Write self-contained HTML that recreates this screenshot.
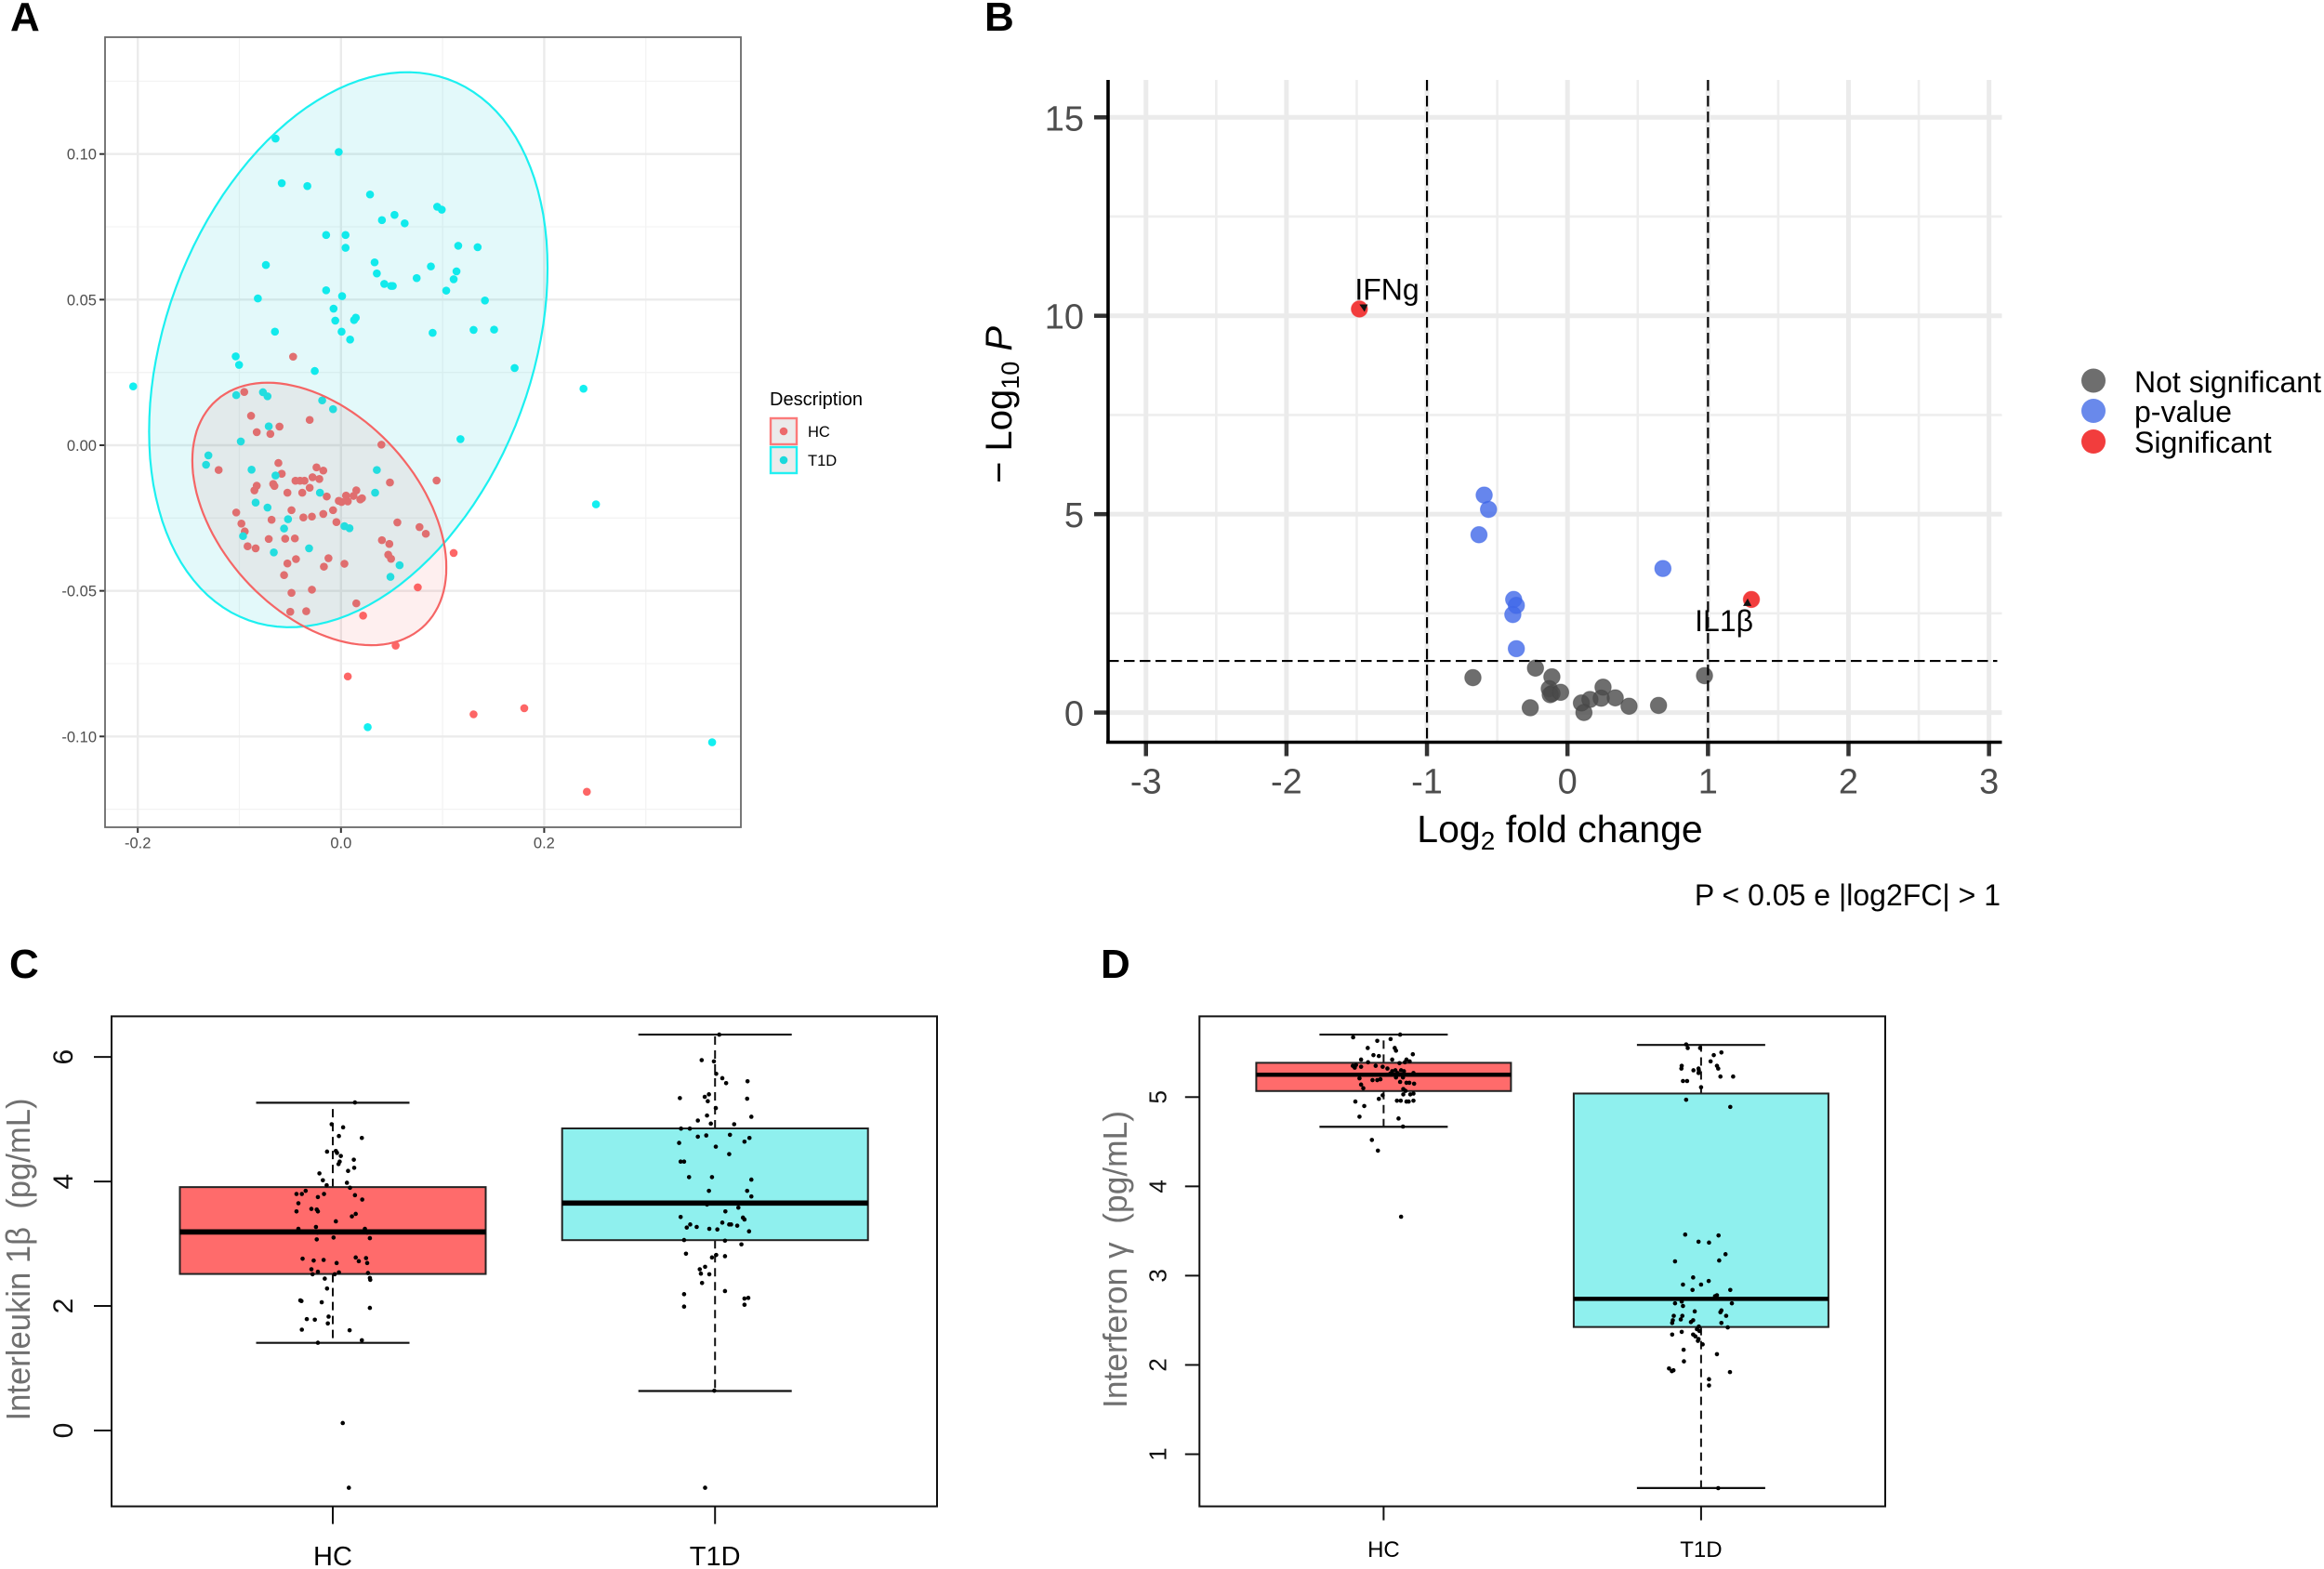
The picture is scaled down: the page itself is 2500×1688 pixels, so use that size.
<!DOCTYPE html>
<html lang="en">
<head>
<meta charset="utf-8">
<title>Figure panels A-D</title>
<style>
html,body{margin:0;padding:0;background:#fff;}
svg{display:block;}
text{font-family:"Liberation Sans",sans-serif;}
</style>
</head>
<body>
<svg id="fig" xmlns="http://www.w3.org/2000/svg" width="2500" height="1688" viewBox="0 0 2500 1688">
<rect x="0" y="0" width="2500" height="1688" fill="#fff"/>
<text x="11" y="33" font-size="44" font-weight="bold">A</text>
<text x="1059" y="33" font-size="44" font-weight="bold">B</text>
<text x="10" y="1052" font-size="44" font-weight="bold">C</text>
<text x="1184" y="1052" font-size="44" font-weight="bold">D</text>

<g id="panelA"></g>
<g id="panelB"></g>
<g id="panelC"></g>
<g id="panelD"></g>

<g>
<text x="828" y="436" font-size="20" fill="#000">Description</text>
<rect x="829" y="450" width="28" height="28" fill="#ebebeb" stroke="#fb7a7a" stroke-width="2.4"/>
<circle cx="843" cy="464" r="4.3" fill="#ec6a6c"/>
<text x="869" y="470" font-size="16.5">HC</text>
<rect x="829" y="481" width="28" height="28" fill="#ebebeb" stroke="#22f0f2" stroke-width="2.4"/>
<circle cx="843" cy="495" r="4.3" fill="#1ad9dc"/>
<text x="869" y="501" font-size="16.5">T1D</text>
</g>

<g>
<circle cx="2252" cy="409.5" r="13" fill="#4a4a4a" fill-opacity="0.8"/>
<text x="2296" y="422" font-size="32">Not significant</text>
<circle cx="2252" cy="442" r="13" fill="#4f74e8" fill-opacity="0.85"/>
<text x="2296" y="454" font-size="32">p-value</text>
<circle cx="2252" cy="475" r="13" fill="#f12c2c" fill-opacity="0.92"/>
<text x="2296" y="487" font-size="32">Significant</text>
</g>

<text x="1678" y="906" font-size="41" text-anchor="middle" fill="#000">Log<tspan font-size="28" dy="8">2</tspan><tspan dy="-8"> fold change</tspan></text>
<text transform="translate(1088 520) rotate(-90)" font-size="40" fill="#000">− Log<tspan font-size="27" dy="8">10</tspan><tspan dy="-8"> </tspan><tspan font-style="italic">P</tspan></text>
<text x="2152" y="974" font-size="32" text-anchor="end" fill="#000">P &lt; 0.05 e |log2FC| &gt; 1</text>

<text transform="translate(32 1355) rotate(-90)" font-size="36" text-anchor="middle" fill="#707070" textLength="347" lengthAdjust="spacingAndGlyphs" xml:space="preserve">Interleukin 1β  (pg/mL)</text>
<text transform="translate(1212 1355) rotate(-90)" font-size="36" text-anchor="middle" fill="#707070" textLength="320" lengthAdjust="spacingAndGlyphs" xml:space="preserve">Interferon γ  (pg/mL)</text>
</svg>

<script>
/* ---------- Panel A data ---------- */
const pcaXTicks = [-0.2, 0.0, 0.2];
const pcaXTickLabels = ['-0.2', '0.0', '0.2'];
const pcaXMinor = [-0.1, 0.1, 0.3];
const pcaYTicks = [0.10, 0.05, 0.00, -0.05, -0.10];
const pcaYTickLabels = ['0.10', '0.05', '0.00', '-0.05', '-0.10'];
const pcaYMinor = [0.125, 0.075, 0.025, -0.025, -0.075, -0.125];
const pcaHcPoints = [
[-0.0471,0.0304],[-0.0952,0.0183],[-0.0885,0.0101],[-0.0308,0.0087],[-0.0605,0.0064],[-0.0829,0.0045],[-0.0695,0.0039],[0.0398,0.0002],
[-0.0616,-0.0061],[-0.0241,-0.0076],[-0.0174,-0.0087],[-0.1204,-0.0085],[-0.0583,-0.0098],[-0.0448,-0.0122],[-0.0403,-0.0122],[-0.0359,-0.0122],
[-0.0280,-0.0110],[-0.0213,-0.0116],[0.0482,-0.0128],[0.0941,-0.0121],[-0.0829,-0.0139],[-0.0852,-0.0155],[-0.0667,-0.0133],[-0.0655,-0.0140],
[-0.0527,-0.0163],[-0.0381,-0.0163],[-0.0308,-0.0146],[-0.0140,-0.0176],[0.0151,-0.0155],[0.0123,-0.0174],[0.0050,-0.0173],[-0.0022,-0.0191],
[0.0006,-0.0195],[0.0067,-0.0193],[0.0190,-0.0186],[0.0207,-0.0182],[-0.1031,-0.0231],[-0.0487,-0.0223],[-0.0078,-0.0223],[-0.0174,-0.0236],
[-0.0286,-0.0245],[-0.0370,-0.0248],[-0.0683,-0.0256],[-0.0980,-0.0269],[-0.0045,-0.0264],[0.0555,-0.0265],[0.0773,-0.0281],[-0.0947,-0.0296],
[0.0835,-0.0304],[-0.0711,-0.0322],[-0.0549,-0.0321],[-0.0454,-0.0320],[0.0403,-0.0326],[0.0476,-0.0339],[-0.0919,-0.0347],[-0.0840,-0.0354],
[0.0465,-0.0376],[0.0493,-0.0390],[0.1109,-0.0370],[-0.0443,-0.0391],[-0.0123,-0.0388],[-0.0527,-0.0406],[0.0034,-0.0407],[-0.0168,-0.0417],
[-0.0560,-0.0446],[0.0756,-0.0488],[-0.0286,-0.0496],[-0.0487,-0.0507],[0.0151,-0.0543],[-0.0499,-0.0572],[-0.0342,-0.0570],[0.0218,-0.0585],
[0.0538,-0.0688],[0.0067,-0.0794],[0.1305,-0.0924],[0.1804,-0.0903],[0.2420,-0.1190]];
const pcaT1dPoints = [
[-0.0644,0.1053],[-0.0022,0.1007],[-0.0583,0.0900],[-0.0331,0.0890],[0.0286,0.0861],[0.0947,0.0819],[0.0992,0.0809],[0.0527,0.0791],
[0.0403,0.0773],[0.0627,0.0762],[-0.0146,0.0722],[0.0045,0.0722],[0.0045,0.0678],[0.1154,0.0685],[0.1345,0.0680],[-0.0739,0.0619],
[0.0331,0.0628],[0.0353,0.0590],[0.0885,0.0614],[0.1137,0.0597],[0.1109,0.0570],[0.0745,0.0574],[0.0426,0.0554],[0.0493,0.0547],
[0.0510,0.0547],[-0.0146,0.0532],[0.0011,0.0512],[0.1036,0.0531],[-0.0818,0.0504],[0.1417,0.0497],[-0.0073,0.0469],[-0.0056,0.0428],
[0.0129,0.0430],[0.0146,0.0438],[-0.0650,0.0390],[0.0006,0.0390],[0.0090,0.0363],[0.0902,0.0386],[0.1305,0.0396],[0.1507,0.0397],
[-0.1036,0.0305],[-0.1003,0.0276],[-0.0258,0.0255],[0.1709,0.0265],[-0.2045,0.0202],[0.2387,0.0194],[-0.1031,0.0172],[-0.0768,0.0182],
[-0.0723,0.0168],[-0.0185,0.0154],[-0.0078,0.0124],[-0.0711,0.0065],[-0.0986,0.0013],[0.1176,0.0021],[-0.1305,-0.0035],[-0.1328,-0.0067],
[-0.0880,-0.0084],[-0.0644,-0.0104],[0.0353,-0.0085],[-0.0207,-0.0163],[0.0336,-0.0163],[-0.0840,-0.0197],[-0.0723,-0.0214],[-0.0521,-0.0254],
[-0.0560,-0.0286],[0.0034,-0.0278],[0.0084,-0.0285],[-0.0964,-0.0312],[-0.0314,-0.0354],[-0.0661,-0.0368],[0.0577,-0.0412],[0.0487,-0.0452],
[0.2510,-0.0203],[0.0263,-0.0968],[0.3653,-0.1020]];
/* ellipse: centre, half-extent on each axis, axis correlation */
const pcaHcEllipse = [-0.0213, -0.0236, 0.125, 0.04507, -0.408];
const pcaT1dEllipse = [0.00723, 0.0328, 0.1961, 0.0953, 0.2945];

/* ---------- Panel B data ---------- */
const volcanoXTicks = [-3, -2, -1, 0, 1, 2, 3];
const volcanoXMinor = [-2.5, -1.5, -0.5, 0.5, 1.5, 2.5];
const volcanoYTicks = [0, 5, 10, 15];
const volcanoYMinor = [2.5, 7.5, 12.5];
const volcanoFcCutoffs = [-1, 1];
const volcanoPCutoff = [1.3];
const volcanoNotSig = [[-0.673,0.88],[-0.228,1.12],[-0.111,0.90],[-0.13,0.60],[-0.11,0.48],[-0.123,0.45],[-0.049,0.51],[-0.265,0.12],[0.099,0.24],[0.16,0.33],[0.117,0],[0.253,0.64],[0.24,0.36],[0.34,0.37],[0.438,0.16],[0.648,0.18],[0.975,0.93]];
const volcanoPValue = [[-0.593,5.48],[-0.562,5.12],[-0.63,4.48],[0.679,3.63],[-0.383,2.85],[-0.364,2.70],[-0.389,2.47],[-0.364,1.61]];
const volcanoSignificant = [[-1.481,10.17],[1.309,2.85]];

/* ---------- Panel C data ---------- */
const il1bTicks = [0, 2, 4, 6];
const il1bGroups = ['HC', 'T1D'];
const il1bQ1 = [2.515, 3.058];
const il1bMedian = [3.19, 3.654];
const il1bQ3 = [3.91, 4.853];
const il1bWhiskerLow = [1.408, 0.635];
const il1bWhiskerHigh = [5.265, 6.36];
const il1bHc = [[.058,5.27],[-.003,4.92],[.027,4.87],[.016,4.73],[.076,4.70],[-.015,4.48],[.008,4.49],[.011,4.46],[.021,4.41],[.055,4.35],[.018,4.32],[.015,4.28],[.056,4.22],[.040,4.17],[-.035,4.13],[-.026,4.02],[.037,3.98],[-.016,3.94],[.045,3.90],[-.071,3.85],[-.095,3.80],[-.081,3.80],[-.023,3.80],[-.039,3.75],[.058,3.78],[.077,3.71],[-.090,3.65],[-.056,3.56],[-.042,3.55],[-.039,3.52],[-.095,3.52],[.060,3.48],[.050,3.44],[.008,3.36],[-.090,3.24],[-.044,3.27],[.084,3.24],[-.040,3.18],[.090,3.18],[.002,3.10],[-.042,3.07],[.097,3.09],[-.079,2.76],[-.050,2.73],[-.024,2.74],[.060,2.78],[.068,2.72],[.087,2.77],[.090,2.69],[.010,2.69],[-.056,2.59],[-.039,2.55],[-.053,2.51],[.005,2.51],[.016,2.54],[.092,2.53],[.097,2.45],[.098,2.42],[-.021,2.44],[-.015,2.28],[-.085,2.09],[-.082,2.08],[-.029,2.06],[.097,1.97],[-.068,1.79],[-.047,1.78],[-.011,1.83],[-.013,1.72],[-.081,1.62],[.044,1.61],[.076,1.45],[-.039,1.41],[.026,0.12],[.042,-0.92]];
const il1bT1d = [[.011,6.36],[-.035,5.95],[-.003,5.93],[.003,5.73],[.019,5.66],[.029,5.58],[.085,5.61],[-.092,5.34],[-.027,5.36],[-.019,5.29],[-.016,5.40],[.084,5.33],[.002,5.18],[-.021,5.06],[-.045,4.98],[-.011,4.93],[.050,4.92],[.095,5.04],[-.089,4.85],[-.066,4.85],[-.045,4.72],[-.023,4.74],[.039,4.75],[.090,4.70],[.077,4.64],[-.094,4.62],[.002,4.56],[.037,4.44],[-.090,4.32],[-.081,4.32],[-.068,4.07],[-.008,4.07],[.095,4.03],[-.016,3.85],[.084,3.85],[.095,3.76],[-.021,3.63],[.061,3.58],[.027,3.52],[-.090,3.43],[.073,3.42],[.077,3.39],[-.065,3.31],[-.074,3.26],[-.048,3.27],[.019,3.34],[.037,3.31],[.042,3.31],[.058,3.29],[-.015,3.24],[.006,3.23],[.089,3.20],[-.081,3.06],[.026,3.05],[.069,2.99],[-.076,2.84],[.003,2.82],[.026,2.80],[-.008,2.78],[-.026,2.63],[-.040,2.59],[-.037,2.52],[-.015,2.51],[-.034,2.37],[.026,2.24],[-.081,2.19],[.077,2.12],[.087,2.13],[.077,2.02],[-.081,1.99],[-.002,0.64],[-.026,-0.92]];

/* ---------- Panel D data ---------- */
const ifngTicks = [1, 2, 3, 4, 5];
const ifngGroups = ['HC', 'T1D'];
const ifngQ1 = [5.068, 2.425];
const ifngMedian = [5.251, 2.74];
const ifngQ3 = [5.384, 5.04];
const ifngWhiskerLow = [4.667, 0.621];
const ifngWhiskerHigh = [5.70, 5.584];
const ifngHc = [[.052,5.70],[-.096,5.67],[.022,5.65],[-.020,5.63],[-.050,5.55],[.035,5.55],[.039,5.52],[.092,5.48],[-.032,5.47],[-.015,5.46],[-.071,5.42],[.072,5.42],[.027,5.42],[.082,5.40],[.067,5.39],[.050,5.38],[-.049,5.39],[-.087,5.36],[-.097,5.35],[-.091,5.33],[-.071,5.34],[-.025,5.35],[-.003,5.34],[.012,5.32],[.037,5.30],[.055,5.30],[.027,5.29],[.064,5.29],[.094,5.27],[.044,5.27],[.020,5.26],[.039,5.22],[.061,5.22],[-.076,5.21],[-.035,5.19],[-.020,5.19],[-.010,5.20],[.052,5.17],[.072,5.16],[.081,5.16],[.096,5.15],[-.071,5.14],[-.064,5.10],[.062,5.09],[.069,5.07],[.094,5.04],[.084,5.03],[.062,5.03],[-.003,5.02],[-.015,4.98],[.042,4.96],[.054,4.96],[.072,4.95],[.079,4.95],[.094,4.96],[-.089,4.95],[-.061,4.90],[-.076,4.78],[.047,4.76],[.061,4.67],[-.037,4.52],[-.018,4.40],[.055,3.66]];
const ifngT1d = [[-.047,5.59],[-.003,5.55],[-.042,5.55],[.064,5.50],[.040,5.47],[.030,5.40],[-.061,5.35],[.050,5.35],[.054,5.32],[-.062,5.32],[-.008,5.32],[-.024,5.30],[-.007,5.30],[-.008,5.27],[.061,5.23],[.101,5.23],[-.057,5.18],[-.044,5.18],[0,5.11],[-.047,4.97],[.092,4.89],[-.050,3.46],[.055,3.45],[-.008,3.38],[.025,3.37],[.077,3.24],[.057,3.17],[-.082,3.16],[-.025,2.98],[.024,2.94],[0,2.90],[-.057,2.90],[-.027,2.84],[.092,2.84],[.050,2.78],[.044,2.77],[-.061,2.71],[-.082,2.69],[.097,2.69],[-.057,2.66],[-.020,2.60],[.064,2.61],[.061,2.59],[-.086,2.55],[-.059,2.55],[.079,2.55],[-.064,2.51],[-.089,2.50],[-.091,2.47],[-.025,2.50],[-.032,2.48],[.064,2.47],[-.007,2.43],[-.013,2.40],[.084,2.42],[-.061,2.37],[-.005,2.38],[-.091,2.34],[-.025,2.34],[-.018,2.32],[-.008,2.29],[-.010,2.27],[.005,2.23],[-.055,2.17],[.050,2.12],[-.054,2.04],[-.101,1.96],[-.092,1.93],[-.087,1.94],[.091,1.92],[.025,1.84],[.025,1.77],[.054,0.62]];

const NS = 'http://www.w3.org/2000/svg';
function make(parent, tag, props) {
  const el = document.createElementNS(NS, tag);
  Object.keys(props).forEach(function (k) { el.setAttribute(k, props[k]); });
  parent.appendChild(el);
  return el;
}

/* ---------- Panel A ---------- */
(function () {
  const g = document.getElementById('panelA');
  const L = 113, R = 797, T = 40, B = 890;
  const x = function (v) { return 366.8 + 1093 * v; };
  const y = function (v) { return 479 - 3133 * v; };
  pcaXMinor.forEach(function (v) {
    const el = make(g, 'line', {x1: x(v), x2: x(v), y1: T, y2: B, stroke: '#f3f3f3', 'stroke-width': 1.3});
    
    
  });
  pcaYMinor.forEach(function (v) {
    const el = make(g, 'line', {x1: L, x2: R, y1: y(v), y2: y(v), stroke: '#f3f3f3', 'stroke-width': 1.3});
    
    
  });
  pcaXTicks.forEach(function (v, i) {
    const gl = make(g, 'line', {x1: x(v), x2: x(v), y1: T, y2: B, stroke: '#ebebeb', 'stroke-width': 2.4});
    
    
    const tk = make(g, 'line', {x1: x(v), x2: x(v), y1: B, y2: B + 6, stroke: '#333', 'stroke-width': 2});
    
    
    const tx = make(g, 'text', {x: x(v), y: B + 22.5, 'font-size': 16.5, fill: '#4d4d4d', 'text-anchor': 'middle'});
    tx.textContent = pcaXTickLabels[i];
    
    
  });
  pcaYTicks.forEach(function (v, i) {
    const gl = make(g, 'line', {x1: L, x2: R, y1: y(v), y2: y(v), stroke: '#ebebeb', 'stroke-width': 2.4});
    
    
    const tk = make(g, 'line', {x1: L - 6, x2: L, y1: y(v), y2: y(v), stroke: '#333', 'stroke-width': 2});
    
    
    const tx = make(g, 'text', {x: L - 9, y: y(v) + 6, 'font-size': 16.5, fill: '#4d4d4d', 'text-anchor': 'end'});
    tx.textContent = pcaYTickLabels[i];
    
    
  });
  pcaHcPoints.forEach(function (p) {
    const el = make(g, 'circle', {cx: x(p[0]), cy: y(p[1]), r: 4.3, fill: '#fd6666'});
    
    
  });
  pcaT1dPoints.forEach(function (p) {
    const el = make(g, 'circle', {cx: x(p[0]), cy: y(p[1]), r: 4.3, fill: '#14eff0'});
    
    
  });
  function ellipsePath(e) {
    const theta = Math.acos(e[4]);
    let d = '';
    for (let a = 0; a < 360; a += 3) {
      const t = a * Math.PI / 180;
      const px = x(e[0] + e[2] * Math.cos(t));
      const py = y(e[1] + e[3] * Math.cos(t - theta));
      d += (a === 0 ? 'M' : 'L') + px.toFixed(1) + ' ' + py.toFixed(1);
    }
    return d + 'Z';
  }
  const hcEl = make(g, 'path', {d: ellipsePath(pcaHcEllipse), fill: '#f85050', 'fill-opacity': 0.09, stroke: 'none'});
  
  
  const t1dEl = make(g, 'path', {d: ellipsePath(pcaT1dEllipse), fill: '#00c8d2', 'fill-opacity': 0.11, stroke: '#1cf0f0', 'stroke-width': 2.2});
  
  
  const hcLine = make(g, 'path', {d: ellipsePath(pcaHcEllipse), fill: 'none', stroke: '#f56565', 'stroke-width': 2.2});
  
  
  const frame = make(g, 'rect', {x: L, y: T, width: R - L, height: B - T, fill: 'none', stroke: '#6a6a6a', 'stroke-width': 1.8});
  
  
})();

/* ---------- Panel B ---------- */
(function () {
  const g = document.getElementById('panelB');
  const L = 1192, R = 2153.5, T = 86, B = 798.5;
  const x = function (v) { return 1686.2 + 151.15 * v; };
  const y = function (v) { return 766.6 - 42.69 * v; };
  volcanoXMinor.forEach(function (v) {
    const el = make(g, 'line', {x1: x(v), x2: x(v), y1: T, y2: B, stroke: '#eeeeee', 'stroke-width': 2.6});
    
    
  });
  volcanoYMinor.forEach(function (v) {
    const el = make(g, 'line', {x1: L, x2: R, y1: y(v), y2: y(v), stroke: '#eeeeee', 'stroke-width': 2.6});
    
    
  });
  volcanoXTicks.forEach(function (v) {
    const gl = make(g, 'line', {x1: x(v), x2: x(v), y1: T, y2: B, stroke: '#ebebeb', 'stroke-width': 5});
    
    
    const tk = make(g, 'line', {x1: x(v), x2: x(v), y1: B, y2: B + 15, stroke: '#333', 'stroke-width': 4.5});
    
    
    const tx = make(g, 'text', {x: x(v), y: B + 55, 'font-size': 38, fill: '#4d4d4d', 'text-anchor': 'middle'});
    tx.textContent = String(v);
    
    
  });
  volcanoYTicks.forEach(function (v) {
    const gl = make(g, 'line', {x1: L, x2: R, y1: y(v), y2: y(v), stroke: '#ebebeb', 'stroke-width': 5});
    
    
    const tk = make(g, 'line', {x1: L - 15, x2: L, y1: y(v), y2: y(v), stroke: '#333', 'stroke-width': 4.5});
    
    
    const tx = make(g, 'text', {x: L - 26, y: y(v) + 14, 'font-size': 38, fill: '#4d4d4d', 'text-anchor': 'end'});
    tx.textContent = String(v);
    
    
  });
  volcanoNotSig.forEach(function (p) {
    const el = make(g, 'circle', {cx: x(p[0]), cy: y(p[1]), r: 8.8, fill: '#4a4a4a', 'fill-opacity': 0.8, stroke: '#444', 'stroke-opacity': 0.5, 'stroke-width': 1});
    
    
  });
  volcanoPValue.forEach(function (p) {
    const el = make(g, 'circle', {cx: x(p[0]), cy: y(p[1]), r: 8.8, fill: '#4068e8', 'fill-opacity': 0.8, stroke: '#4068e8', 'stroke-opacity': 0.5, 'stroke-width': 1});
    
    
  });
  volcanoSignificant.forEach(function (p) {
    const el = make(g, 'circle', {cx: x(p[0]), cy: y(p[1]), r: 8.8, fill: '#f12c2c', 'fill-opacity': 0.92, stroke: '#f12c2c', 'stroke-opacity': 0.5, 'stroke-width': 1});
    
    
  });
  volcanoFcCutoffs.forEach(function (v) {
    const el = make(g, 'line', {x1: x(v), x2: x(v), y1: T, y2: B, stroke: '#000', 'stroke-width': 2.1, 'stroke-dasharray': '11.5 5.5'});
    
    
  });
  volcanoPCutoff.forEach(function (v) {
    const el = make(g, 'line', {x1: L, x2: R - 5, y1: y(v), y2: y(v), stroke: '#000', 'stroke-width': 2.1, 'stroke-dasharray': '11.5 5.5'});
    
    
  });
  const axX = make(g, 'line', {x1: L - 2, x2: R, y1: B, y2: B, stroke: '#000', 'stroke-width': 3.6});
  
  
  const axY = make(g, 'line', {x1: L, x2: L, y1: T, y2: B, stroke: '#000', 'stroke-width': 3.6});
  
  

  const ifngPx = x(volcanoSignificant[0][0]), ifngPy = y(volcanoSignificant[0][1]);
  const il1bPx = x(volcanoSignificant[1][0]), il1bPy = y(volcanoSignificant[1][1]);
  const l1 = make(g, 'text', {x: ifngPx - 5, y: ifngPy - 10, 'font-size': 32, fill: '#000'});
  l1.textContent = 'IFNg';
  
  
  const a1 = make(g, 'path', {d: 'M' + (ifngPx) + ' ' + (ifngPy - 5) + 'h9l-3.5 8z', fill: '#111'});
  
  
  const l2 = make(g, 'text', {x: il1bPx + 2, y: il1bPy + 34, 'font-size': 32, fill: '#000', 'text-anchor': 'end'});
  l2.textContent = 'IL1β';
  
  
  const a2 = make(g, 'path', {d: 'M' + (il1bPx - 9) + ' ' + (il1bPy + 7) + 'h9l-4 -8z', fill: '#111'});
  
  
})();

/* ---------- Boxplots ---------- */
function boxplot(g, prefix, cfg) {
  const y = cfg.y, x = cfg.x;
  const colors = ['#ff6b6b', '#8ff0ee'];
  cfg.groups.forEach(function (name, i) {
    const c = x(i + 1);
    const w1 = make(g, 'line', {x1: c, x2: c, y1: y(cfg.q3[i]), y2: y(cfg.high[i]), stroke: '#111', 'stroke-width': 2, 'stroke-dasharray': '9 6'});
    
    
    const w2 = make(g, 'line', {x1: c, x2: c, y1: y(cfg.q1[i]), y2: y(cfg.low[i]), stroke: '#111', 'stroke-width': 2, 'stroke-dasharray': '9 6'});
    
    
    const c1 = make(g, 'line', {x1: c - cfg.capW, x2: c + cfg.capW, y1: y(cfg.high[i]), y2: y(cfg.high[i]), stroke: '#111', 'stroke-width': 2.2});
    
    
    const c2 = make(g, 'line', {x1: c - cfg.capW, x2: c + cfg.capW, y1: y(cfg.low[i]), y2: y(cfg.low[i]), stroke: '#111', 'stroke-width': 2.2});
    
    
    const b = make(g, 'rect', {x: c - cfg.boxW, y: y(cfg.q3[i]), width: 2 * cfg.boxW, height: y(cfg.q1[i]) - y(cfg.q3[i]), fill: colors[i], stroke: '#222', 'stroke-width': 2});
    
    
    const m = make(g, 'line', {x1: c - cfg.boxW, x2: c + cfg.boxW, y1: y(cfg.median[i]), y2: y(cfg.median[i]), stroke: '#000', 'stroke-width': cfg.medW});
    
    
    const tk = make(g, 'line', {x1: c, x2: c, y1: cfg.B, y2: cfg.B + cfg.xTick, stroke: '#111', 'stroke-width': 2});
    
    
    const tx = make(g, 'text', {x: c, y: cfg.xLabelY, 'font-size': cfg.xFont, fill: '#000', 'text-anchor': 'middle'});
    tx.textContent = name;
    
    
  });
  cfg.ticks.forEach(function (v) {
    const tk = make(g, 'line', {x1: cfg.L - cfg.yTick, x2: cfg.L, y1: y(v), y2: y(v), stroke: '#111', 'stroke-width': 2});
    
    
    const tx = make(g, 'text', {transform: 'translate(' + cfg.yLabelX + ' ' + y(v) + ') rotate(-90)', 'font-size': cfg.yFont, fill: '#111', 'text-anchor': 'middle'});
    tx.textContent = String(v);
    
    
  });
  cfg.jitter.forEach(function (series, i) {
    series.forEach(function (p) {
      const el = make(g, 'circle', {cx: x(i + 1 + p[0]), cy: y(p[1]), r: 2.3, fill: '#000'});
      
      
    });
  });
  const frame = make(g, 'rect', {x: cfg.L, y: cfg.T, width: cfg.R - cfg.L, height: cfg.B - cfg.T, fill: 'none', stroke: '#111', 'stroke-width': 2});
  
  
}

boxplot(document.getElementById('panelC'), 'interleukin', {
  L: 120, R: 1008, T: 1093.4, B: 1620.6,
  x: function (v) { return 358 + 411.2 * (v - 1); },
  y: function (v) { return 1539 - 66.97 * v; },
  groups: il1bGroups, ticks: il1bTicks, q1: il1bQ1, median: il1bMedian, q3: il1bQ3, low: il1bWhiskerLow, high: il1bWhiskerHigh,
  jitter: [il1bHc, il1bT1d], boxW: 164.5, capW: 82.5, medW: 5.7, xTick: 19, yTick: 19,
  yLabelX: 78, yFont: 30, xFont: 29, xLabelY: 1684
});
boxplot(document.getElementById('panelD'), 'interferon', {
  L: 1290.3, R: 2028, T: 1093.4, B: 1620.6,
  x: function (v) { return 1488.4 + 341.5 * (v - 1); },
  y: function (v) { return 1564.5 - 96.05 * (v - 1); },
  groups: ifngGroups, ticks: ifngTicks, q1: ifngQ1, median: ifngMedian, q3: ifngQ3, low: ifngWhiskerLow, high: ifngWhiskerHigh,
  jitter: [ifngHc, ifngT1d], boxW: 137, capW: 69, medW: 4.5, xTick: 15, yTick: 15.5,
  yLabelX: 1254.7, yFont: 26, xFont: 24, xLabelY: 1675
});
</script>
</body>
</html>
